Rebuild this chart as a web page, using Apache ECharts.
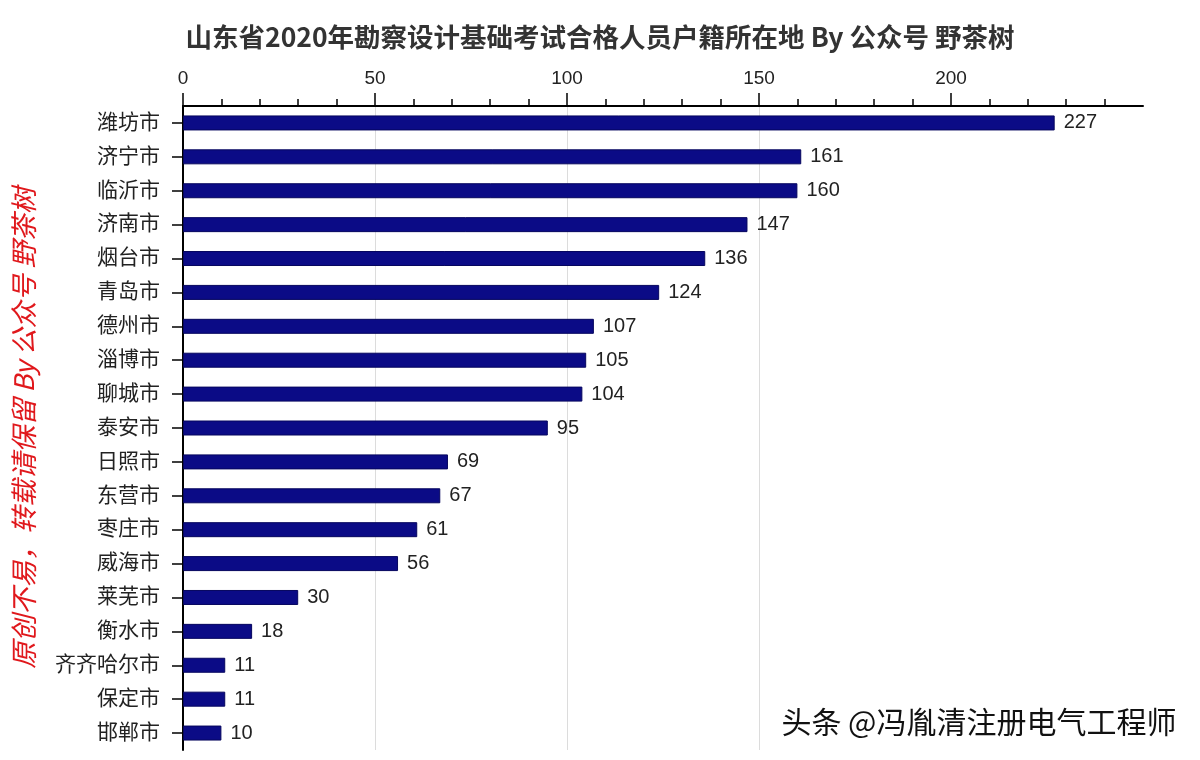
<!DOCTYPE html>
<html>
<head>
<meta charset="utf-8">
<script src="https://cdn.jsdelivr.net/npm/echarts@6/dist/echarts.min.js"></script>
<style>html,body{margin:0;padding:0;background:#fff;}#c{width:1200px;height:760px;}</style>
</head>
<body>
<div id="c"></div>
<script>
const titleText = '山东省2020年勘察设计基础考试合格人员户籍所在地 By 公众号 野茶树';
const cities = ['潍坊市','济宁市','临沂市','济南市','烟台市','青岛市','德州市','淄博市','聊城市','泰安市','日照市','东营市','枣庄市','威海市','莱芜市','衡水市','齐齐哈尔市','保定市','邯郸市'];
const counts = [227,161,160,147,136,124,107,105,104,95,69,67,61,56,30,18,11,11,10];
const xTickValues = [0,50,100,150,200];
const sideNote = '原创不易，转载请保留 By 公众号 野茶树';
const cornerNote = '头条 @冯胤清注册电气工程师';

const FONT = '"Liberation Sans", "Noto Sans CJK SC", sans-serif';
const chart = echarts.init(document.getElementById('c'), null, {renderer: 'canvas'});
chart.setOption({
  backgroundColor: '#ffffff',
  animation: false,
  title: {
    text: titleText,
    left: 'center',
    top: 19,
    textStyle: {fontFamily: '"Noto Sans CJK SC", sans-serif', fontSize: 26.5, fontWeight: 'bold', color: '#333'}
  },
  grid: {left: 183, right: 57, top: 106, bottom: 10},
  xAxis: {
    type: 'value',
    position: 'top',
    min: 0,
    max: 250,
    interval: 50,
    axisLine: {show: true, lineStyle: {color: '#000', width: 2}},
    axisTick: {show: true, length: 13, customValues: xTickValues, lineStyle: {color: '#000', width: 1.5}},
    minorTick: {show: true, splitNumber: 5, length: 7, lineStyle: {color: '#000', width: 1.5}},
    axisLabel: {customValues: xTickValues, fontSize: 19, color: '#222', fontFamily: FONT, margin: 18},
    splitLine: {show: true, showMinLine: false, showMaxLine: false, lineStyle: {color: '#dcdcdc', width: 1}}
  },
  yAxis: {
    type: 'category',
    inverse: true,
    data: cities,
    axisLine: {show: true, lineStyle: {color: '#000', width: 2}},
    axisTick: {show: true, alignWithLabel: true, length: 11, lineStyle: {color: '#000', width: 1.5}},
    axisLabel: {fontSize: 21, color: '#222', fontFamily: FONT, margin: 23},
    splitLine: {show: false}
  },
  series: [{
    type: 'bar',
    data: counts,
    barWidth: 15,
    itemStyle: {color: '#0b0b86', borderColor: '#06065e', borderWidth: 1},
    label: {show: true, position: 'right', distance: 9, fontSize: 20, color: '#222', fontFamily: FONT}
  }],
  graphic: [
    {
      type: 'text',
      x: 24, y: 428,
      rotation: Math.PI / 2,
      style: {
        text: sideNote,
        fill: '#e0181c',
        font: 'italic 27px "Noto Sans CJK SC", sans-serif',
        align: 'center',
        verticalAlign: 'middle'
      }
    },
    {
      type: 'text',
      right: 22, bottom: 22,
      style: {
        text: cornerNote,
        fill: '#111',
        font: '30px "Noto Sans CJK SC", sans-serif',
        stroke: '#fff',
        lineWidth: 3,
        shadowColor: 'rgba(0,0,0,0.35)',
        shadowOffsetX: 1,
        shadowOffsetY: 1,
        shadowBlur: 1
      }
    }
  ]
});
</script>
</body>
</html>
